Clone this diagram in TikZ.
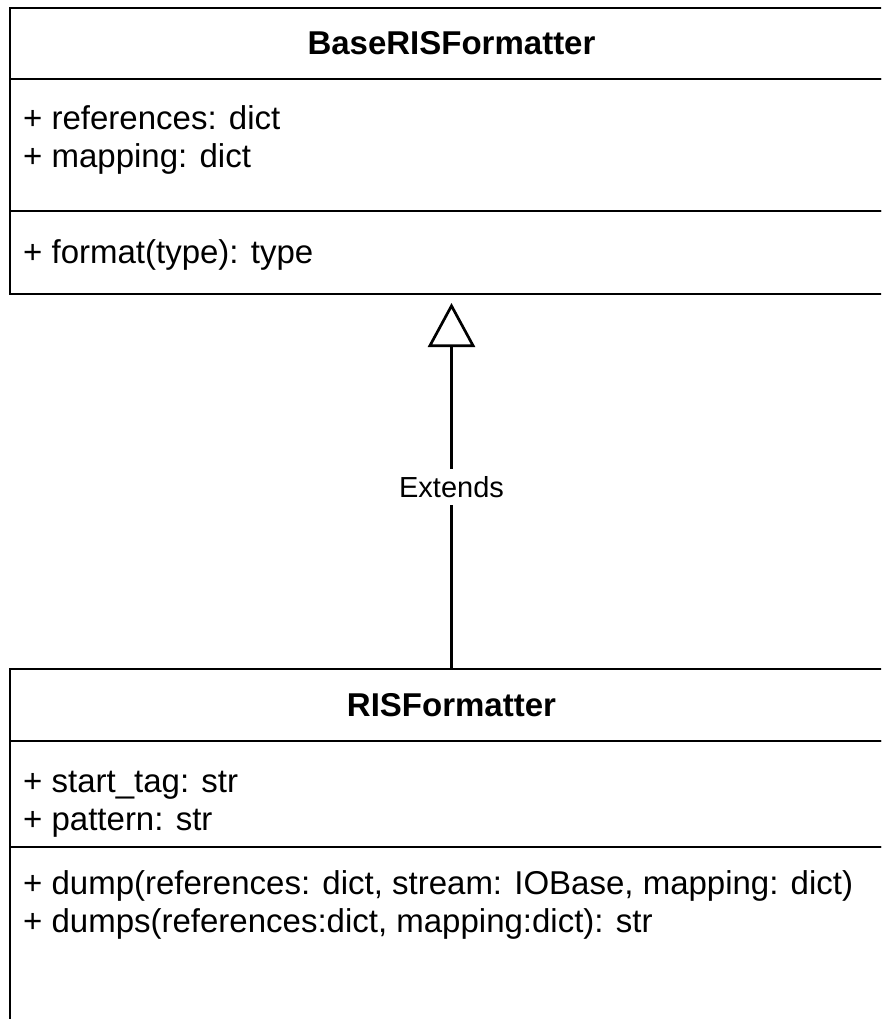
\documentclass[tikz,border=0pt]{standalone}
\usepackage{fontspec}
\setmainfont{Liberation Sans}
\usetikzlibrary{arrows.meta,positioning}
\tikzset{
	umlpart/.style={draw,line width=2.7pt,minimum width=883pt,inner sep=0pt,outer sep=0pt,anchor=north west},
	umltitle/.style={umlpart,minimum height=71pt,font=\fontsize{33}{38.5}\selectfont\bfseries},
	umlmembers/.style={anchor=north west,align=left,inner sep=0pt,font=\fontsize{33}{38.5}\selectfont},
	extends/.style={line width=2.7pt,-{Triangle[open,length=44pt,width=47pt]},shorten >=9pt}
}
\begin{document}
\begin{tikzpicture}[x=1pt,y=-1pt]
		\useasboundingbox(0,0)rectangle(881,1019);
		\clip(0,0)rectangle(881,1019);
		% base class
		\node[umltitle](basetitle)at(10,8){BaseRISFormatter};
		\node[umlpart,minimum height=132pt](baseattr)at(basetitle.south west){};
		\node[umlpart,minimum height=83pt](basemeth)at(baseattr.south west){};
		\node[umlmembers]at([shift={(13,23)}]baseattr.north west){\strut+ references: dict\\+ mapping: dict};
		\node[umlmembers]at([shift={(13,25)}]basemeth.north west){\strut+ format(type): type};
		% derived class
		\node[umltitle,minimum height=72pt](ristitle)at(10,669){RISFormatter};
		\node[umlpart,minimum height=106pt](risattr)at(ristitle.south west){};
		\node[umlpart,minimum height=220pt](rismeth)at(risattr.south west){};
		\node[umlmembers]at([shift={(13,24)}]risattr.north west){\strut+ start\_tag: str\\+ pattern: str};
		\node[umlmembers]at([shift={(13,20)}]rismeth.north west){\strut+ dump(references: dict, stream: IOBase, mapping: dict)\\+ dumps(references:dict, mapping:dict): str};
		\draw[extends](ristitle.north)--node[pos=.485,fill=white,inner sep=7pt,font=\fontsize{29}{34}\selectfont]{Extends}(basemeth.south);
	\end{tikzpicture}
\end{document}
